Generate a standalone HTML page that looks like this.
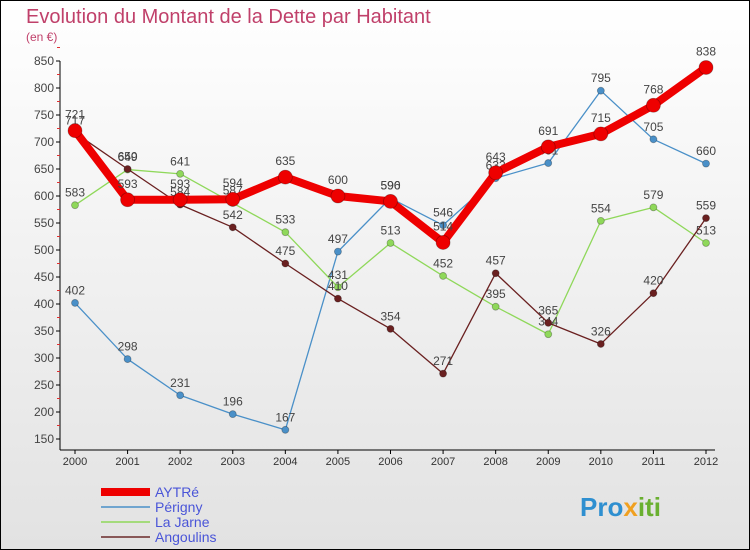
<!DOCTYPE html>
<html><head><meta charset="utf-8"><style>
body{margin:0}
#c{width:750px;height:550px;position:relative;overflow:hidden;font-family:"Liberation Sans",sans-serif}
</style></head><body>
<div id="c">
<svg id="s" width="750" height="550" xmlns="http://www.w3.org/2000/svg">
<defs><linearGradient id="bg" x1="0" y1="0" x2="0" y2="1"><stop offset="0" stop-color="#ffffff"/><stop offset="1" stop-color="#e2e2e2"/></linearGradient></defs>
<rect x="0.5" y="0.5" width="749" height="549" fill="url(#bg)" stroke="#000"/>
<text x="26" y="23" font-size="20" fill="#c0406a">Evolution du Montant de la Dette par Habitant</text>
<text x="26" y="41" font-size="12" fill="#c0406a">(en €)</text>
<g id="axes"></g><g id="series"></g>
<g font-size="14" fill="#4a55d8">
<line x1="101" y1="492" x2="150" y2="492" stroke="#ee0000" stroke-width="8"/>
<text x="155" y="497">AYTRé</text>
<line x1="101" y1="507" x2="150" y2="507" stroke="#4a90c8" stroke-width="1.5"/>
<text x="155" y="512">Périgny</text>
<line x1="101" y1="522" x2="150" y2="522" stroke="#8fd85a" stroke-width="1.5"/>
<text x="155" y="527">La Jarne</text>
<line x1="101" y1="537" x2="150" y2="537" stroke="#6a2a2a" stroke-width="1.5"/>
<text x="155" y="542">Angoulins</text>
</g>
<text x="580" y="516" font-size="26" font-weight="bold" fill="#2e8fd0">Pro<tspan fill="#f0a020">x</tspan><tspan fill="#6ab030">iti</tspan></text>
</svg></div>
<script>
const years=["2000","2001","2002","2003","2004","2005","2006","2007","2008","2009","2010","2011","2012"];
const aytre=[721,593,593,594,635,600,590,514,643,691,715,768,838];
const perigny=[402,298,231,196,167,497,596,546,633,661,795,705,660];
const laJarne=[583,649,641,587,533,431,513,452,395,344,554,579,513];
const angoulins=[717,650,584,542,475,410,354,271,457,365,326,420,559];
const yTicks=[150,200,250,300,350,400,450,500,550,600,650,700,750,800,850];
const NS="http://www.w3.org/2000/svg";
const X=i=>75+i*(706-75)/12;
const Y=v=>439-(v-150)*(378/700);
function mk(t,a,p){const e=document.createElementNS(NS,t);for(const k in a)e.setAttribute(k,a[k]);p.appendChild(e);return e;}
const ax=document.getElementById('axes');
let l=mk('line',{x1:60,y1:61,x2:60,y2:450,stroke:'#000'},ax);


l=mk('line',{x1:60,y1:450,x2:715,y2:450,stroke:'#000'},ax);


yTicks.forEach(v=>{
 mk('line',{x1:56,y1:Y(v),x2:60,y2:Y(v),stroke:'#000'},ax);
 mk('line',{x1:57,y1:Y(v+25),x2:60,y2:Y(v+25),stroke:'#e03030'},ax);
 const t=mk('text',{x:54,y:Y(v)+4,'text-anchor':'end','font-size':12,fill:'#444'},ax);
 t.textContent=v;
 
 
});
years.forEach((y,i)=>{
 mk('line',{x1:X(i),y1:450,x2:X(i),y2:454,stroke:'#000'},ax);
 const t=mk('text',{x:X(i),y:465,'text-anchor':'middle','font-size':11,fill:'#333'},ax);
 t.textContent=y;
 
 
});
const sg=document.getElementById('series');
function draw(data,name,color,w,r){
 const g=mk('g',{},sg);
 
 
 const pl=mk('polyline',{points:data.map((v,i)=>X(i)+','+Y(v)).join(' '),fill:'none',stroke:color,'stroke-width':w,'stroke-linejoin':'round'},g);
 
 
 data.forEach((v,i)=>{
  const c=mk('circle',{cx:X(i),cy:Y(v),r:r,fill:color,stroke:'rgba(0,0,0,0.3)','stroke-width':0.8},g);
  
  
  const t=mk('text',{x:X(i),y:Y(v)-r-5,'text-anchor':'middle','font-size':12,fill:'#444'},g);
  t.textContent=v;
  
  
 });
}
draw(perigny,'perigny','#4a90c8',1.3,3.5);
draw(laJarne,'la-jarne','#8fd85a',1.3,3.5);
draw(angoulins,'angoulins','#6a2020',1.3,3.5);
draw(aytre,'aytre','#ee0000',8,7);
</script>
</body></html>
